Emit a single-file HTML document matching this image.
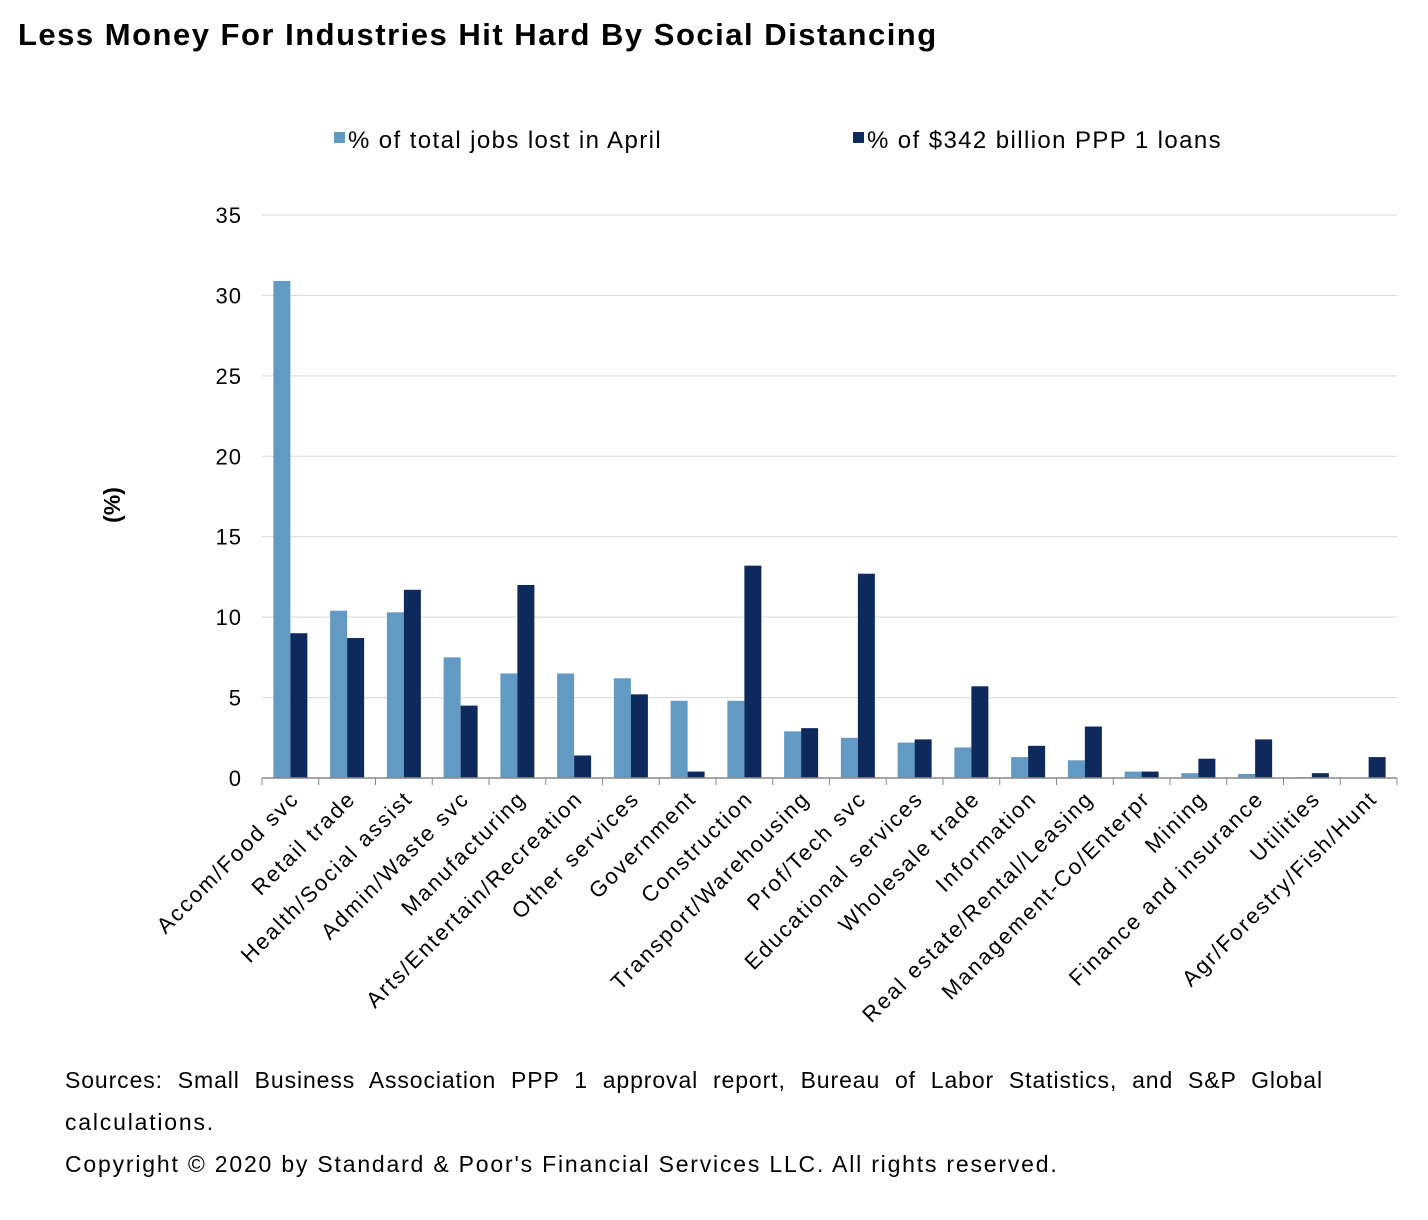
<!DOCTYPE html>
<html><head><meta charset="utf-8">
<style>
body{margin:0;background:#fff;font-family:"Liberation Sans",Arial,sans-serif;}
#wrap{position:relative;width:1428px;height:1220px;overflow:hidden;}
.title{position:absolute;left:18px;top:17px;font-size:31px;letter-spacing:1.5px;font-weight:bold;color:#000;white-space:nowrap;}
.note{position:absolute;left:65px;font-size:23px;letter-spacing:1.8px;color:#000;white-space:nowrap;}
</style></head>
<body>
<div id="wrap">
<div class="title">Less Money For Industries Hit Hard By Social Distancing</div>
<svg id="chart" width="1428" height="1060" style="position:absolute;left:0;top:0"></svg>
<div class="note" style="top:1067px;width:1258px;white-space:normal;letter-spacing:0.9px;text-align:justify;text-align-last:justify;">Sources: Small Business Association PPP 1 approval report, Bureau of Labor Statistics, and S&amp;P Global</div>
<div class="note" style="top:1109px">calculations.</div>
<div class="note" style="top:1151px">Copyright © 2020 by Standard &amp; Poor's Financial Services LLC. All rights reserved.</div>
</div>
<script>
const categories=["Accom/Food svc","Retail trade","Health/Social assist","Admin/Waste svc","Manufacturing","Arts/Entertain/Recreation","Other services","Government","Construction","Transport/Warehousing","Prof/Tech svc","Educational services","Wholesale trade","Information","Real estate/Rental/Leasing","Management-Co/Enterpr","Mining","Finance and insurance","Utilities","Agr/Forestry/Fish/Hunt"];
const jobsLost=[30.9,10.4,10.3,7.5,6.5,6.5,6.2,4.8,4.8,2.9,2.5,2.2,1.9,1.3,1.1,0.4,0.3,0.25,0.05,0];
const pppLoans=[9.0,8.7,11.7,4.5,12.0,1.4,5.2,0.4,13.2,3.1,12.7,2.4,5.7,2.0,3.2,0.4,1.2,2.4,0.3,1.3];
const yTicks=[0,5,10,15,20,25,30,35];
const seriesNames=["% of total jobs lost in April","% of $342 billion PPP 1 loans"];

const NS="http://www.w3.org/2000/svg";
const svg=document.getElementById('chart');
const L=262,R=1397,Y0=778,Y35=215;
const y=v=>Y0-(v/35)*(Y0-Y35);
const band=(R-L)/categories.length;
const x=i=>L+band*i;
const FF='Liberation Sans, Arial, sans-serif';
function mk(t,a){const e=document.createElementNS(NS,t);for(const k in a)e.setAttribute(k,a[k]);svg.appendChild(e);return e;}
yTicks.forEach(t=>{
  if(t>0){const g=mk('line',{x1:L,x2:R,y1:y(t),y2:y(t),stroke:'#d9d9d9','stroke-width':1});
  
  }
  const tx=mk('text',{x:242,y:y(t)+8,'text-anchor':'end','font-size':22,'letter-spacing':1,'font-family':FF});
  tx.textContent=t;
  
  
});
const yt=mk('text',{x:0,y:0,transform:'translate(120,505) rotate(-90)','text-anchor':'middle','font-size':23,'font-weight':'bold','font-family':FF});
yt.textContent='(%)';


const cols=['#629ac3','#0e2a5c'];
const bw=17;
categories.forEach((c,i)=>{
  const cx=x(i)+band/2;
  [jobsLost[i],pppLoans[i]].forEach((v,s)=>{
    const r=mk('rect',{x:cx-bw+s*bw,y:y(v),width:bw,height:Y0-y(v),fill:cols[s]});
    
    
  });
  const tk=mk('line',{x1:x(i),x2:x(i),y1:Y0,y2:Y0+7,stroke:'#888'});
  
  
  const lb=mk('text',{x:0,y:0,transform:`translate(${cx+10},${Y0+22}) rotate(-45)`,'text-anchor':'end','font-size':22,'letter-spacing':2,'font-family':FF});
  lb.textContent=c;
  
  
});
const tkr=mk('line',{x1:R,x2:R,y1:Y0,y2:Y0+7,stroke:'#888'});


const ax=mk('line',{x1:L,x2:R,y1:Y0,y2:Y0,stroke:'#888','stroke-width':1.5});


const lx=[334,853];
seriesNames.forEach((n,s)=>{
  const r=mk('rect',{x:lx[s],y:132,width:11,height:11,fill:cols[s]});
  
  
  const t=mk('text',{x:lx[s]+14,y:148,'font-size':24,'letter-spacing':1.4,'font-family':FF});
  t.textContent=n;
  
  
});
</script>
</body></html>
